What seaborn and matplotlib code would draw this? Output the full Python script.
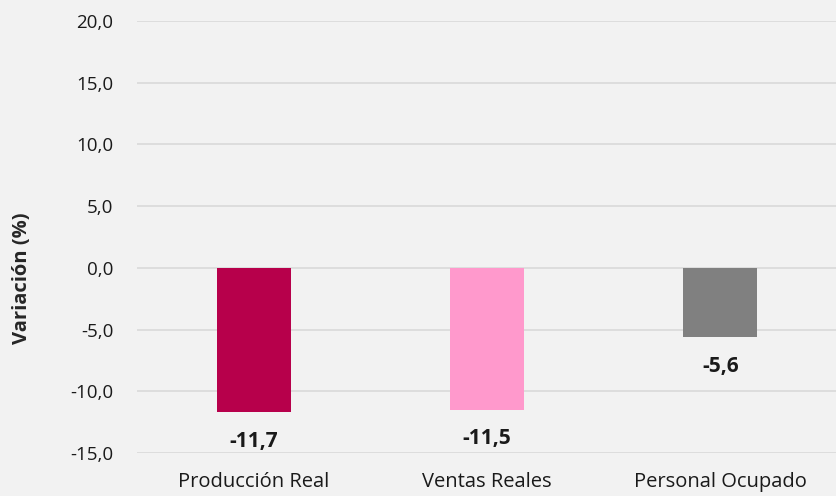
import pandas as pd
import seaborn as sns
import matplotlib.pyplot as plt

categories = ['Producción Real', 'Ventas Reales', 'Personal Ocupado']
values = [-11.7, -11.5, -5.6]
colors = ['#B7004B', '#FF99CC', '#808080']

df = pd.DataFrame({'cat': categories, 'val': values})

sns.set_style('white')
plt.rcParams['font.family'] = ['Open Sans', 'DejaVu Sans']

fig = plt.figure(figsize=(8.37, 4.96), dpi=100, facecolor='#F2F2F2')
ax = fig.add_axes([137 / 837, 1 - 453 / 496, 700 / 837, 432 / 496])
ax.set_facecolor('#F2F2F2')

sns.barplot(data=df, x='cat', y='val', hue='cat', palette=colors, width=0.317,
            legend=False, ax=ax, saturation=1, linewidth=0)

ax.set_ylim(-15, 20)
ax.set_yticks(range(-15, 21, 5))
ax.set_yticklabels([f'{t:.1f}'.replace('.', ',') for t in range(-15, 21, 5)], fontsize=13.5, color='#1a1a1a')
ax.tick_params(axis='x', labelsize=14.5, colors='#1a1a1a', length=0, pad=14)
ax.tick_params(axis='y', length=0, pad=17)
ax.yaxis.grid(True, color='#D9D9D9', linewidth=1.2)
ax.set_axisbelow(True)
for s in ax.spines.values():
    s.set_visible(False)

ax.set_xlabel('')
ax.set_ylabel('Variación (%)', fontsize=14.5, fontweight='bold', va='center')
ax.yaxis.set_label_coords(-0.164, 0.405)

for i, v in enumerate(values):
    ax.annotate(f'{v:.1f}'.replace('.', ','), xy=(i, v), xytext=(0, -21),
                textcoords='offset points', ha='center', va='center',
                fontsize=15, fontweight='bold', color='#1a1a1a')

fig.savefig('out.png', dpi=100, facecolor='#F2F2F2')
